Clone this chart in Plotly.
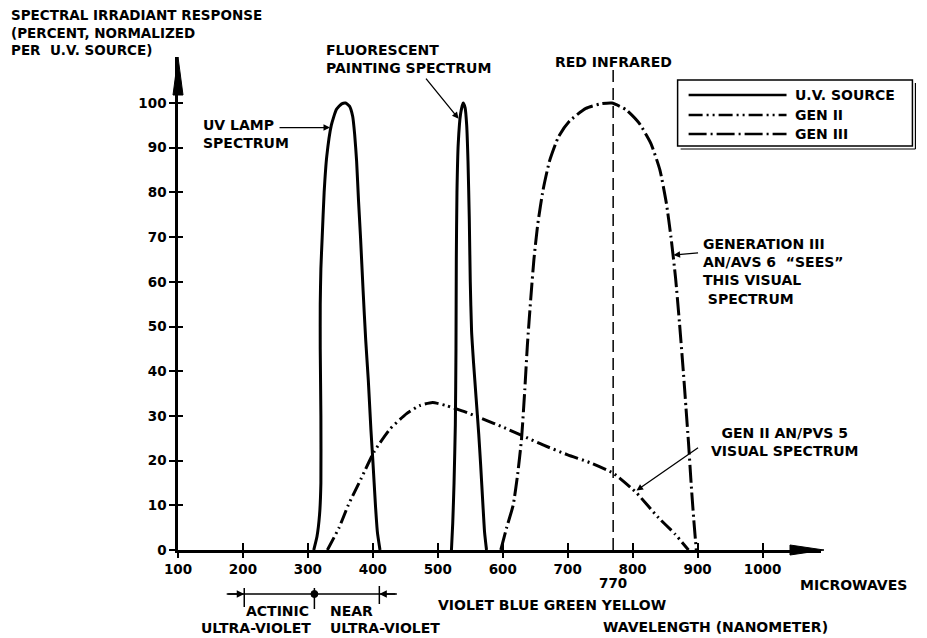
import plotly.graph_objects as go

# ---------------- data ----------------
x_ticks = [100, 200, 300, 400, 500, 600, 700, 800, 900, 1000]
y_ticks = [0, 10, 20, 30, 40, 50, 60, 70, 80, 90, 100]

uv_nm = [309, 314, 318, 320, 320, 319, 319, 320, 322, 325, 329, 336, 344, 352, 358,
         364, 369, 372, 375, 378, 381, 385, 389, 393, 397, 400, 404, 407, 411]
uv_val = [0, 3, 8, 15, 30, 45, 55, 63, 70, 80, 88, 95, 98.6, 99.8, 100,
          99.3, 97, 93, 87, 78, 70, 58, 47, 38, 27, 20, 10, 4, 0]

fl_nm = [521, 523, 525, 527, 528, 528.5, 529.5, 531.5, 535, 539, 542, 544.5, 546.5,
         548.5, 550, 552, 555, 559, 563, 566, 569.5, 572, 575]
fl_val = [0, 6, 15, 28, 45, 65, 80, 91, 97.5, 100, 99, 95, 87,
          74, 60, 49, 42, 34, 26, 19, 10, 4, 0]

gen2_nm = [330, 348, 362, 382, 402, 426, 452, 472, 492, 513, 540, 570, 600, 630,
           662, 700, 735, 770, 800, 806, 840, 865, 886]
gen2_val = [0, 5, 10, 16, 22, 27, 30.5, 32.3, 33, 32.3, 31, 29.3, 27.5, 25.6,
            23.5, 21.3, 19.5, 17.2, 13.6, 12.8, 7.2, 3.6, 0]

gen3_nm = [597, 606, 616, 623, 629, 634, 638, 643, 648, 654, 662, 672, 686, 703, 728,
           750, 768, 790, 810, 828, 842, 852, 859, 866, 872, 878, 882, 886, 890, 894, 898]
gen3_val = [0, 5, 10, 17, 25, 36, 46, 56, 65, 73, 80.5, 87, 92.5, 96, 98.8,
            99.8, 100, 98.5, 95.5, 91, 85, 77.5, 70, 61, 51, 40, 32, 24, 15, 7, 0]

red_ir_nm = 770
actinic_start_nm = 202
uv_boundary_nm = 310
near_uv_end_nm = 410
x_range = [100, 1090]
y_range = [0, 110.3]

# ---------------- layout helpers ----------------
# the page body has an 8px default margin, so the figure is shifted by 8px
W, H = 927, 638
OFF = 8
PLOT_L, PLOT_R, PLOT_T, PLOT_B = 178, 821.5, 57, 550  # window pixels of the plot area
ML = PLOT_L - OFF
MT = PLOT_T - OFF
MR = W - (PLOT_R - OFF)
MB = H - (PLOT_B - OFF)
PW = PLOT_R - PLOT_L
PH = PLOT_B - PLOT_T


def fx(px):
    return (px - PLOT_L) / PW


def fy(py):
    return (PLOT_B - py) / PH


FONT = dict(family="DejaVu Sans", size=14, color="black", weight="bold")
TFONT = dict(family="DejaVu Sans", size=13.5, color="black", weight="bold")
DASH2 = "14px,4px,2px,4px,2px,4px"
DASH3 = "18px,4px,2px,4px"

fig = go.Figure()
line_kw = dict(shape="spline", smoothing=0.5)
fig.add_trace(go.Scatter(x=uv_nm, y=uv_val, mode="lines", name="U.V. SOURCE",
                         line=dict(color="black", width=3, **line_kw)))
fig.add_trace(go.Scatter(x=fl_nm, y=fl_val, mode="lines", name="FLUORESCENT PAINTING",
                         line=dict(color="black", width=3, **line_kw)))
fig.add_trace(go.Scatter(x=gen2_nm, y=gen2_val, mode="lines", name="GEN II",
                         line=dict(color="black", width=3, dash=DASH2, **line_kw)))
fig.add_trace(go.Scatter(x=gen3_nm, y=gen3_val, mode="lines", name="GEN III",
                         line=dict(color="black", width=3, dash=DASH3, **line_kw)))
# empty traces so the overlay axes (crossing tick marks) are drawn
fig.add_trace(go.Scatter(x=[], y=[], xaxis="x2", yaxis="y", showlegend=False, hoverinfo="skip"))
fig.add_trace(go.Scatter(x=[], y=[], xaxis="x", yaxis="y2", showlegend=False, hoverinfo="skip"))

shapes = []
# RED INFRARED dashed line
shapes.append(dict(type="line", xref="x", yref="y", x0=red_ir_nm, x1=red_ir_nm, y0=0, y1=107.8,
                   line=dict(color="black", width=1.5, dash="12px,6px")))
# axis arrowheads
shapes.append(dict(type="path", xref="paper", yref="paper", xsizemode="pixel", ysizemode="pixel",
                   xanchor=0, yanchor=1, path="M0,0 L-5,-38 L5,-38 Z",
                   fillcolor="black", line=dict(color="black", width=1)))
shapes.append(dict(type="path", xref="paper", yref="paper", xsizemode="pixel", ysizemode="pixel",
                   xanchor=1, yanchor=0, path="M3,0 L-31,5 L-31,-5 Z",
                   fillcolor="black", line=dict(color="black", width=1)))
# bracket below the axis (actinic / near UV)
yb = fy(594)
shapes.append(dict(type="line", xref="x", yref="paper", x0=175, x1=437, y0=yb, y1=yb,
                   line=dict(color="black", width=1.5)))
for xm, ya, yb2 in [(actinic_start_nm, 588, 607), (uv_boundary_nm, 588, 609), (near_uv_end_nm, 586, 604)]:
    shapes.append(dict(type="line", xref="x", yref="paper", x0=xm, x1=xm, y0=fy(ya), y1=fy(yb2),
                       line=dict(color="black", width=1.5)))
shapes.append(dict(type="circle", xref="x", yref="paper", xsizemode="pixel", ysizemode="pixel",
                   xanchor=uv_boundary_nm, yanchor=yb, x0=-3.5, x1=3.5, y0=-3.5, y1=3.5,
                   fillcolor="black", line=dict(color="black", width=1)))
# manual legend
shapes.append(dict(type="rect", xref="paper", yref="paper", x0=fx(678), x1=fx(913), y0=fy(146), y1=fy(80),
                   line=dict(color="black", width=1.5), fillcolor="white", layer="below"))
shapes.append(dict(type="line", xref="paper", yref="paper", x0=fx(916), x1=fx(916), y0=fy(83), y1=fy(149),
                   line=dict(color="black", width=1.2)))
shapes.append(dict(type="line", xref="paper", yref="paper", x0=fx(681), x1=fx(916), y0=fy(149), y1=fy(149),
                   line=dict(color="black", width=1.2)))
leg_rows = [("U.V. SOURCE", "solid", 95), ("GEN II", DASH2, 115), ("GEN III", DASH3, 134)]
annotations = []
for name, dash, py in leg_rows:
    shapes.append(dict(type="line", xref="paper", yref="paper", x0=fx(689), x1=fx(787), y0=fy(py), y1=fy(py),
                       line=dict(color="black", width=2.5, dash=dash)))
    annotations.append(dict(text=name, xref="paper", yref="paper", x=fx(793), y=fy(py),
                            xanchor="left", yanchor="middle", showarrow=False, font=FONT))


def txt(text, px, py, xanchor="left", align="left", font=FONT):
    annotations.append(dict(text=text, xref="paper", yref="paper", x=fx(px), y=fy(py),
                            xanchor=xanchor, yanchor="middle", align=align, showarrow=False, font=font))


def arrow(x, y, ax, ay):
    annotations.append(dict(text="", xref="x", yref="y", x=x, y=y, axref="x", ayref="y", ax=ax, ay=ay,
                            showarrow=True, arrowhead=2, arrowsize=1, arrowwidth=1.3,
                            arrowcolor="black", standoff=0))


txt("SPECTRAL IRRADIANT RESPONSE<br>(PERCENT, NORMALIZED<br>PER&nbsp; U.V. SOURCE)", 9, 33, font=TFONT)
txt("UV LAMP<br>SPECTRUM", 201, 134)
txt("FLUORESCENT<br>PAINTING SPECTRUM", 324, 59)
annotations.append(dict(text="RED INFRARED", xref="x", yref="paper", x=red_ir_nm, y=fy(62),
                        xanchor="center", yanchor="middle", showarrow=False, font=FONT))
txt("GENERATION III<br>AN/AVS 6&nbsp; “SEES”<br>THIS VISUAL<br>&nbsp;SPECTRUM", 701, 271)
txt("GEN II AN/PVS 5<br>VISUAL SPECTRUM", 785, 442, xanchor="center", align="center")
annotations.append(dict(text="770", xref="x", yref="paper", x=red_ir_nm, y=fy(583),
                        xanchor="center", yanchor="middle", showarrow=False, font=TFONT))
txt("MICROWAVES", 798, 585)
txt("VIOLET BLUE GREEN YELLOW", 436, 605)
txt("WAVELENGTH (NANOMETER)", 601, 627)
txt("ACTINIC", 311, 611, xanchor="right")
txt("ULTRA-VIOLET", 313, 628, xanchor="right")
txt("NEAR", 328, 611)
txt("ULTRA-VIOLET", 328, 628)

# pointer arrows
arrow(334, 94.5, 254, 94.5)        # UV lamp
arrow(532, 96.5, 480, 105.8)       # fluorescent painting
arrow(863, 66, 903, 66.5)          # generation III
arrow(806, 13.3, 903, 23.1)        # gen II

# bracket arrowheads (pointing inward)
for tip, tail in [(actinic_start_nm, 175), (near_uv_end_nm, 437)]:
    annotations.append(dict(text="", xref="x", yref="paper", x=tip, y=yb, axref="x", ax=tail,
                            ayref="pixel", ay=0, showarrow=True, arrowhead=2, arrowsize=1,
                            arrowwidth=1.5, arrowcolor="black", standoff=0))

axis_common = dict(showgrid=False, zeroline=False, automargin=False, fixedrange=True)
fig.update_layout(
    width=W, height=H,
    margin=dict(l=ML, r=MR, t=MT, b=MB, pad=0),
    paper_bgcolor="white", plot_bgcolor="white",
    showlegend=False,
    xaxis=dict(range=x_range, tickvals=x_ticks, ticks="outside", ticklen=5, tickwidth=2,
               tickcolor="black", showline=True, linewidth=2.5, linecolor="black",
               tickfont=TFONT, **axis_common),
    xaxis2=dict(range=x_range, tickvals=x_ticks, overlaying="x", anchor="y", side="bottom",
                ticks="inside", ticklen=7, tickwidth=2, tickcolor="black",
                showticklabels=False, showline=False, **axis_common),
    yaxis=dict(range=y_range, tickvals=y_ticks, ticks="outside", ticklen=6, tickwidth=2,
               tickcolor="black", showline=True, linewidth=2.5, linecolor="black",
               tickfont=TFONT, **axis_common),
    yaxis2=dict(range=y_range, tickvals=y_ticks, overlaying="y", anchor="x", side="left",
                ticks="inside", ticklen=5, tickwidth=2, tickcolor="black",
                showticklabels=False, showline=False, **axis_common),
    shapes=shapes,
    annotations=annotations,
)

fig.write_html("out.html")
